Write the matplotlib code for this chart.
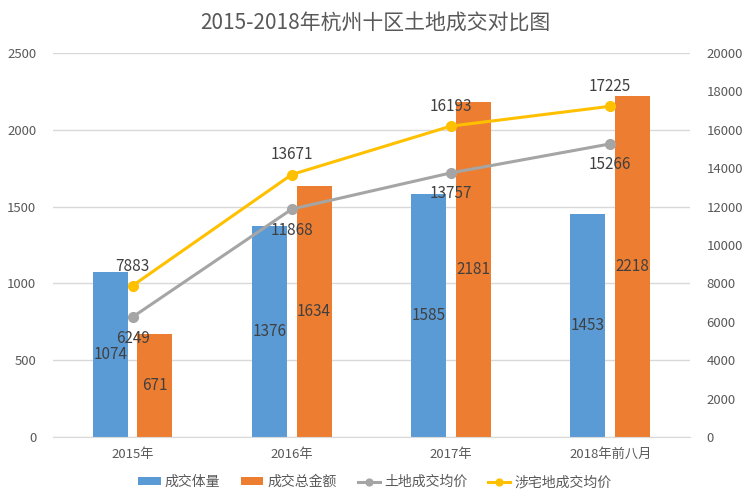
import matplotlib
matplotlib.use('Agg')
import matplotlib.pyplot as plt
import numpy as np

plt.rcParams['font.family'] = ['Noto Sans CJK SC', 'DejaVu Sans']

years = ['2015年', '2016年', '2017年', '2018年前八月']
volume = [1074, 1376, 1585, 1453]          # 成交体量
amount = [671, 1634, 2181, 2218]           # 成交总金额
avg_price = [6249, 11868, 13757, 15266]    # 土地成交均价
res_price = [7883, 13671, 16193, 17225]    # 涉宅地成交均价

txt = '#595959'
fig = plt.figure(figsize=(7.5, 5), dpi=100)
ax = fig.add_axes([0.0707, 0.126, 0.849, 0.768])
ax2 = ax.twinx()

x = np.arange(len(years))
w = 0.22
off = 0.14
b1 = ax.bar(x - off, volume, w, color='#5B9BD5', label='成交体量', zorder=2)
b2 = ax.bar(x + off, amount, w, color='#ED7D31', label='成交总金额', zorder=2)
for bars, vals in ((b1, volume), (b2, amount)):
    for r, v in zip(bars, vals):
        ax.text(r.get_x() + r.get_width() / 2, v / 2, str(v), ha='center', va='center',
                fontsize=11, color='#404040')

l1, = ax2.plot(x, avg_price, color='#A5A5A5', lw=2.2, marker='o', ms=7, label='土地成交均价')
l2, = ax2.plot(x, res_price, color='#FFC000', lw=2.2, marker='o', ms=7, label='涉宅地成交均价')
for xi, v in zip(x, avg_price):
    ax2.annotate(str(v), (xi, v), xytext=(0, -9), textcoords='offset points',
                 ha='center', va='top', fontsize=11, color='#404040')
for xi, v in zip(x, res_price):
    ax2.annotate(str(v), (xi, v), xytext=(0, 8), textcoords='offset points',
                 ha='center', va='bottom', fontsize=11, color='#404040')

ax.set_xlim(-0.5, 3.5)
ax.set_ylim(0, 2500)
ax.set_yticks(range(0, 2501, 500))
ax2.set_ylim(0, 20000)
ax2.set_yticks(range(0, 20001, 2000))
ax.set_xticks(x)
ax.set_xticklabels(years)
ax.grid(axis='y', color='#D9D9D9', lw=1, zorder=0)
ax.set_axisbelow(True)
for a in (ax, ax2):
    for s in a.spines.values():
        s.set_visible(False)
    a.tick_params(length=0, colors=txt, labelsize=9.5)
ax.spines['bottom'].set_visible(True)
ax.spines['bottom'].set_color('#D9D9D9')
ax.tick_params(axis='x', pad=8)
ax.tick_params(axis='y', pad=12)
ax2.tick_params(axis='y', pad=12)

fig.text(0.5, 0.952, '2015-2018年杭州十区土地成交对比图', ha='center', va='center',
         fontsize=15, color=txt)
fig.legend(handles=[b1, b2, l1, l2], loc='center', bbox_to_anchor=(0.5, 0.036),
           ncol=4, frameon=False, fontsize=10, labelcolor=txt, handlelength=1.6,
           handleheight=0.45, columnspacing=1.5, handletextpad=0.3, markerscale=0.7)

fig.savefig('out.png', dpi=100)
